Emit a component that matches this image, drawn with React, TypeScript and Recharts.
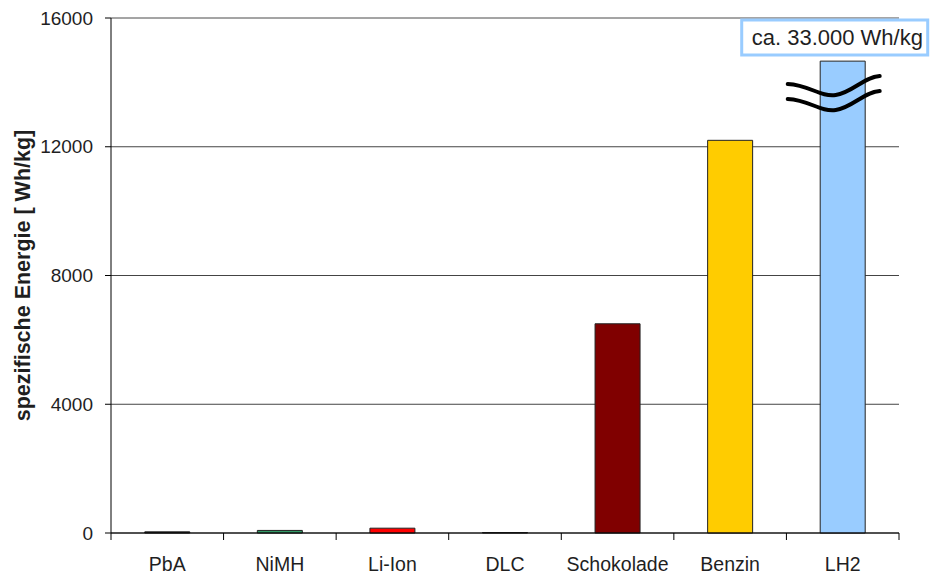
import { Bar, BarChart, CartesianGrid, Cell, ReferenceDot, ReferenceLine, XAxis, YAxis } from "recharts";

const categories = ["PbA", "NiMH", "Li-Ion", "DLC", "Schokolade", "Benzin", "LH2"];
const energy = [35, 80, 150, 15, 6500, 12200, 14660];
const barColors = ["#1a1a1a", "#339966", "#ff0000", "#1a1a1a", "#800000", "#ffcc00", "#99ccff"];
const yTicks = [0, 4000, 8000, 12000, 16000];
const yLabel = "spezifische Energie [ Wh/kg]";
const note = "ca. 33.000 Wh/kg";

const data = categories.map((name, i) => ({ name, value: energy[i] }));

const font = "'Liberation Sans', Arial, sans-serif";
const textColor = "#1f1f1f";
const X_TICK_SIZE = 7;
const X_TICK_MARGIN = 17;

function AxisTitle({ viewBox }: any) {
  if (!viewBox) return null;
  const x = viewBox.x + 23;
  const y = viewBox.y + viewBox.height / 2;
  return (
    <text
      x={x}
      y={y}
      transform={`rotate(-90 ${x} ${y})`}
      textAnchor="middle"
      dominantBaseline="central"
      fontFamily={font}
      fontSize={21.5}
      fontWeight={700}
      fill={textColor}
    >
      {yLabel}
    </text>
  );
}

// category label plus tick marks on the category boundaries (Excel style)
function CategoryTick({ x, y, payload, index, visibleTicksCount }: any) {
  const half = payload?.offset ?? 0;
  const axisY = y - X_TICK_SIZE - X_TICK_MARGIN;
  const last = index === visibleTicksCount - 1;
  return (
    <g>
      <line x1={x - half} x2={x - half} y1={axisY} y2={axisY + X_TICK_SIZE} stroke="#000" />
      {last && <line x1={x + half} x2={x + half} y1={axisY} y2={axisY + X_TICK_SIZE} stroke="#000" />}
      <text x={x} y={y} dy="0.71em" textAnchor="middle" fontFamily={font} fontSize={19.5} fill={textColor}>
        {payload.value}
      </text>
    </g>
  );
}

// the "axis break" squiggles drawn across the LH2 bar
function BreakMark({ cx, cy }: any) {
  if (cx == null || cy == null) return null;
  const x = cx - 9;
  const wave = (dy: number) =>
    `M ${x - 46} ${cy - 8 + dy} C ${x - 24} ${cy - 7 + dy}, ${x - 14} ${cy + 5 + dy}, ${x + 2} ${cy + 3 + dy} S ${x + 30} ${cy - 15 + dy}, ${x + 46} ${cy - 16 + dy}`;
  return (
    <g>
      <path d={wave(0)} fill="none" stroke="#000" strokeWidth={4} strokeLinecap="round" />
      <path d={wave(15)} fill="none" stroke="#000" strokeWidth={4} strokeLinecap="round" />
    </g>
  );
}

function NoteBox({ cx, cy }: any) {
  if (cx == null || cy == null) return null;
  const left = cx - 101;
  const top = cy + 2;
  return (
    <g>
      <rect x={left} y={top} width={186} height={35} fill="#fff" stroke="#99ccff" strokeWidth={3} />
      <text x={left + 10} y={top + 25} fontFamily={font} fontSize={22} fill={textColor}>
        {note}
      </text>
    </g>
  );
}

export default function App() {
  return (
    <div style={{ position: "absolute", left: 0, top: 0, width: 930, height: 576, background: "#fff", fontFamily: font }}>
      <BarChart
        width={930}
        height={576}
        data={data}
        margin={{ top: 18, right: 31, left: 0, bottom: 0 }}
        barCategoryGap="30%"
      >
        <CartesianGrid vertical={false} stroke="#444" strokeWidth={1} />
        <XAxis
          dataKey="name"
          height={43}
          tickLine={false}
          tickSize={X_TICK_SIZE}
          tickMargin={X_TICK_MARGIN}
          axisLine={{ stroke: "#000" }}
          tick={<CategoryTick />}
          interval={0}
        />
        <YAxis
          width={111}
          domain={[0, 16000]}
          ticks={yTicks}
          tickSize={6}
          tickMargin={12}
          axisLine={{ stroke: "#000" }}
          tickLine={{ stroke: "#000" }}
          tick={{ fontSize: 19, fill: textColor, fontFamily: font }}
          label={<AxisTitle />}
        />
        <YAxis
          yAxisId="r"
          orientation="right"
          width={0}
          domain={[0, 16000]}
          tick={false}
          tickLine={false}
          axisLine={{ stroke: "#a0a0a0" }}
        />
        <ReferenceLine y={16000} stroke="#a8a8a8" />
        <Bar dataKey="value" stroke="#222" strokeWidth={1} isAnimationActive={false}>
          {data.map((d, i) => (
            <Cell key={d.name} fill={barColors[i]} />
          ))}
        </Bar>
        <ReferenceDot x="LH2" y={13700} r={0} ifOverflow="visible" shape={<BreakMark />} />
        <ReferenceDot x="LH2" y={16000} r={0} ifOverflow="visible" shape={<NoteBox />} />
      </BarChart>
    </div>
  );
}
